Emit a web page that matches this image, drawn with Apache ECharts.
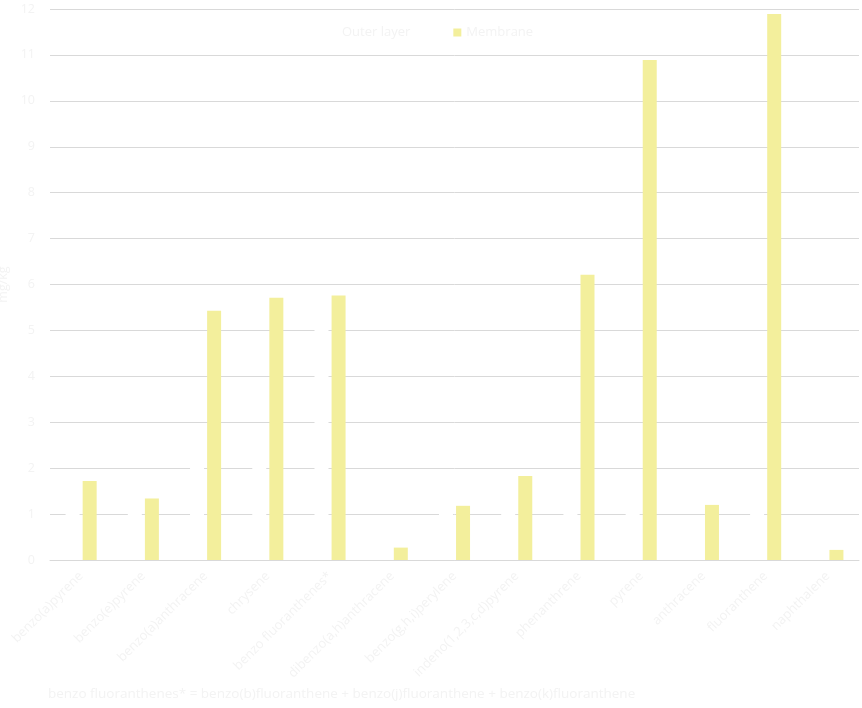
<!DOCTYPE html>
<html>
<head>
<meta charset="utf-8">
<script src="https://cdn.jsdelivr.net/npm/echarts@6/dist/echarts.min.js"></script>
<style>
  html, body { margin: 0; padding: 0; background: #ffffff; }
  #root { width: 862px; height: 708px; }
</style>
</head>
<body>
<div id="root"></div>
<script>
// compound names on the x axis
var categories = [
	'benzo(a)pyrene', 'benzo(e)pyrene', 'benzo(a)anthracene', 'chrysene',
	'benzo fluoranthenes*', 'dibenzo(a,h)anthracene', 'benzo(g,h,i)perylene',
	'indeno(1,2,3,c,d)pyrene', 'phenanthrene', 'pyrene', 'anthracene',
	'fluoranthene', 'naphthalene'
];

// mg/kg (outer layer bars are white, only visible where they cut the grid)
var outerLayer = [1.4, 1.3, 2.05, 2.2, 5.3, 0.5, 1.3, 1.5, 1.6, 1.8, 0.5, 1.9, 0.3];
var membrane = [1.72, 1.34, 5.43, 5.71, 5.76, 0.27, 1.18, 1.83, 6.21, 10.89, 1.2, 11.89, 0.22];

var yTicks = [0, 1, 2, 3, 4, 5, 6, 7, 8, 9, 10, 11, 12];

var footnote = 'benzo fluoranthenes* = benzo(b)fluoranthene + benzo(j)fluoranthene + benzo(k)fluoranthene';

var textColor = '#f3f3f3';
var gridColor = '#d9d9d9';
var fontFamily = '"Open Sans", "Noto Sans", sans-serif';

var chart = echarts.init(document.getElementById('root'));

var option = {
	backgroundColor: '#ffffff',
	animation: false,
	textStyle: { fontFamily: fontFamily },
	grid: {
		left: 50, right: 3, top: 9, bottom: 148,
		containLabel: false,
		outerBoundsMode: 'none'
	},
	legend: {
		top: 21,
		left: 324,
		itemWidth: 8,
		itemHeight: 8,
		itemGap: 43,
		icon: 'rect',
		textStyle: { color: textColor, fontSize: 13, fontFamily: fontFamily },
		data: ['Outer layer', 'Membrane']
	},
	xAxis: {
		type: 'category',
		data: categories,
		axisLine: { show: true, lineStyle: { color: gridColor, width: 1 } },
		axisTick: { show: false },
		axisLabel: {
			rotate: 45,
			interval: 0,
			margin: 14,
			color: textColor,
			fontSize: 13,
			fontFamily: fontFamily
		}
	},
	yAxis: {
		type: 'value',
		min: yTicks[0],
		max: yTicks[yTicks.length - 1],
		interval: 1,
		name: 'mg/kg',
		nameLocation: 'middle',
		nameGap: 32,
		nameRotate: 90,
		nameTextStyle: { color: textColor, fontSize: 12.5, fontFamily: fontFamily },
		axisLine: { show: false },
		axisTick: { show: false },
		axisLabel: { color: textColor, fontSize: 12.5, margin: 15, fontFamily: fontFamily },
		splitLine: { lineStyle: { color: gridColor, width: 1 } }
	},
	series: [
		{
			name: 'Outer layer',
			type: 'bar',
			data: outerLayer,
			barWidth: 14,
			barGap: '22%',
			itemStyle: { color: '#ffffff' }
		},
		{
			name: 'Membrane',
			type: 'bar',
			data: membrane,
			barWidth: 14,
			barGap: '22%',
			itemStyle: { color: '#f3ef9c' }
		}
	],
	graphic: [
		{
			type: 'text',
			left: 48,
			top: 687,
			style: {
				text: footnote,
				fill: textColor,
				font: '13.5px ' + fontFamily
			}
		}
	]
};

chart.setOption(option);
</script>
</body>
</html>
